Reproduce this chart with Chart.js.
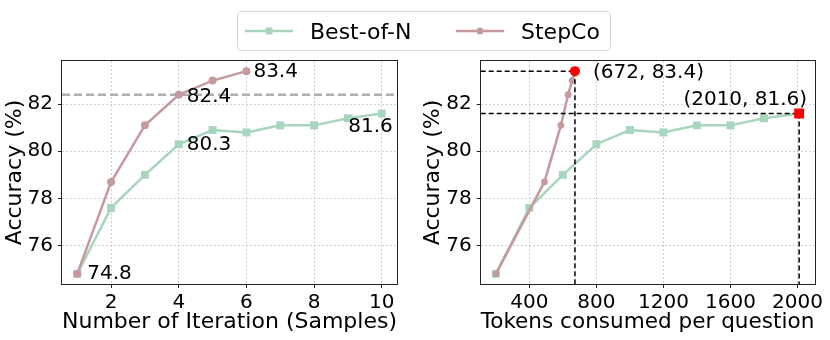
<!DOCTYPE html>
<html>
<head>
<meta charset="utf-8">
<script src="https://cdn.jsdelivr.net/npm/chart.js@4/dist/chart.umd.min.js"></script>
<style>
  html, body { margin: 0; padding: 0; background: #fff; }
  body { width: 830px; height: 340px; position: relative; overflow: hidden; font-family: "DejaVu Sans", sans-serif; }
  #c1 { position: absolute; left: 0; top: 0; }
  #c2 { position: absolute; left: 410px; top: 0; }
  #legend { position: absolute; left: 237px; top: 11px; width: 372px; height: 38px; border: 1px solid #d9d9d9; border-radius: 4px; background: rgba(255,255,255,0.8); }
  .item { position: absolute; top: 0; height: 38px; display: flex; align-items: center; font-size: 22px; color: #000; white-space: nowrap; }
  .item svg { margin-right: 17px; }
</style>
</head>
<body>
<canvas id="c1" width="410" height="340"></canvas>
<canvas id="c2" width="420" height="340"></canvas>
<div id="legend">
  <div class="item" style="left:7px"><svg width="48" height="12"><line x1="0" y1="6" x2="48" y2="6" stroke="#a8d5bd" stroke-width="2.5"/><rect x="20.5" y="2.5" width="7" height="7" fill="#a8d5bd"/></svg><span>Best-of-N</span></div>
  <div class="item" style="left:218px"><svg width="48" height="12"><line x1="0" y1="6" x2="48" y2="6" stroke="#c5999e" stroke-width="2.5"/><circle cx="24" cy="6" r="3.5" fill="#c5999e"/></svg><span>StepCo</span></div>
</div>
<script>
// ---- data ----
const iterations = [1, 2, 3, 4, 5, 6, 7, 8, 9, 10];
const bestOfNAcc = [74.8, 77.6, 79.0, 80.3, 80.9, 80.8, 81.1, 81.1, 81.4, 81.6];
const stepCoIter = [1, 2, 3, 4, 5, 6];
const stepCoAcc = [74.8, 78.7, 81.1, 82.4, 83.0, 83.4];
const bestOfNTokens = [200, 400, 600, 800, 1000, 1200, 1400, 1600, 1800, 2010];
const stepCoTokens = [200, 490, 588, 631, 655, 672];
const refAcc = 82.4;
const yTicks = [76, 78, 80, 82];
const xTicksLeft = [2, 4, 6, 8, 10];
const xTicksRight = [400, 800, 1200, 1600, 2000];
const seriesNames = ['Best-of-N', 'StepCo'];

const GREEN = '#a8d5bd';
const PINK = '#c5999e';
const FONT = 'DejaVu Sans';

function pts(xs, ys) { return xs.map((x, i) => ({ x: x, y: ys[i] })); }
function pad(lo, hi) { const m = (hi - lo) * 0.05; return [lo - m, hi + m]; }

const yAll = bestOfNAcc.concat(stepCoAcc);
const [yMin, yMax] = pad(Math.min(...yAll), Math.max(...yAll));
const [x1Min, x1Max] = pad(Math.min(...iterations), Math.max(...iterations));
const tokAll = bestOfNTokens.concat(stepCoTokens);
const [x2Min, x2Max] = pad(Math.min(...tokAll), Math.max(...tokAll));

const frameAndRef = {
  id: 'frameAndRef',
  beforeDatasetsDraw(chart, args, opts) {
    if (opts.refY === undefined) return;
    const { ctx, chartArea: a, scales } = chart;
    const y = scales.y.getPixelForValue(opts.refY);
    ctx.save();
    ctx.strokeStyle = '#aeaeae';
    ctx.lineWidth = 2.5;
    ctx.setLineDash([8, 4]);
    ctx.beginPath(); ctx.moveTo(a.left, y); ctx.lineTo(a.right, y); ctx.stroke();
    ctx.restore();
  },
  afterDatasetDraw(chart, args, opts) {
    if (!opts.cross || args.index !== opts.crossAfter) return;
    const { ctx, chartArea: a, scales } = chart;
    ctx.save();
    ctx.strokeStyle = '#000';
    ctx.lineWidth = 1.5;
    ctx.setLineDash([5, 3]);
    opts.cross.forEach(p => {
      const x = scales.x.getPixelForValue(p.x), y = scales.y.getPixelForValue(p.y);
      ctx.beginPath(); ctx.moveTo(a.left, y); ctx.lineTo(x, y); ctx.stroke();
      ctx.beginPath(); ctx.moveTo(x, y); ctx.lineTo(x, a.bottom); ctx.stroke();
    });
    ctx.restore();
  },
  afterDraw(chart, args, opts) {
    const { ctx, chartArea: a, scales } = chart;
    ctx.save();
    ctx.strokeStyle = '#222';
    ctx.lineWidth = 1;
    ctx.strokeRect(Math.round(a.left) - 0.5, Math.round(a.top) - 0.5, Math.round(a.right - a.left) + 1, Math.round(a.bottom - a.top) + 1);
    ctx.fillStyle = '#000';
    ctx.font = '20px "' + FONT + '"';
    ctx.textBaseline = 'middle';
    (opts.labels || []).forEach(l => {
      const x = scales.x.getPixelForValue(l.x), y = scales.y.getPixelForValue(l.y);
      ctx.textAlign = l.align || 'left';
      ctx.fillText(l.text, x + l.dx, y + l.dy);
    });
    ctx.restore();
  }
};

function makeScales(xMin, xMax, xTicks, xTitle, yWidth) {
  const common = {
    type: 'linear',
    grid: { color: '#c4c4c4', lineWidth: 0.8, borderDash: [2, 2], tickColor: '#222', tickLength: 4, tickWidth: 1, tickBorderDash: [] },
    border: { display: false, dash: [2, 2] },
  };
  return {
    x: Object.assign({}, common, {
      min: xMin, max: xMax,
      afterBuildTicks: s => { s.ticks = xTicks.map(v => ({ value: v })); },
      afterFit: s => { s.height = 56; },
      ticks: { color: '#000', font: { family: FONT, size: 20 }, padding: 3, maxRotation: 0, autoSkip: false, callback: v => String(v) },
      title: { display: true, text: xTitle, color: '#000', font: { family: FONT, size: 22 }, padding: { top: 0, bottom: 5 } }
    }),
    y: Object.assign({}, common, {
      min: yMin, max: yMax,
      afterBuildTicks: s => { s.ticks = yTicks.map(v => ({ value: v })); },
      afterFit: s => { s.width = yWidth; },
      ticks: { color: '#000', font: { family: FONT, size: 20 }, padding: 5, callback: v => String(v) },
      title: { display: true, text: 'Accuracy (%)', color: '#000', font: { family: FONT, size: 22 }, padding: { top: 2, bottom: 0 } }
    })
  };
}

const baseOpts = {
  responsive: false, animation: false, devicePixelRatio: 1,
  plugins: { legend: { display: false }, tooltip: { enabled: false } },
};

const f1 = v => v.toFixed(1);

new Chart(document.getElementById('c1'), {
  type: 'line',
  data: {
    datasets: [
      { label: seriesNames[0], data: pts(iterations, bestOfNAcc), borderColor: GREEN, backgroundColor: GREEN, borderWidth: 2.5,
        pointStyle: 'rect', pointRadius: 5.6, pointBorderWidth: 0, order: 3 },
      { label: seriesNames[1], data: pts(stepCoIter, stepCoAcc), borderColor: PINK, backgroundColor: PINK, borderWidth: 2.5,
        pointStyle: 'circle', pointRadius: 4, pointBorderWidth: 0, order: 2 }
    ]
  },
  options: Object.assign({}, baseOpts, {
    layout: { padding: { left: 0, right: 13, top: 61, bottom: 0 } },
    scales: makeScales(x1Min, x1Max, xTicksLeft, 'Number of Iteration (Samples)', 62),
    plugins: Object.assign({}, baseOpts.plugins, {
      frameAndRef: {
        refY: refAcc,
        labels: [
          { x: iterations[0], y: bestOfNAcc[0], text: f1(bestOfNAcc[0]), dx: 10, dy: 0 },
          { x: stepCoIter[3], y: stepCoAcc[3], text: f1(stepCoAcc[3]), dx: 8, dy: 2 },
          { x: iterations[3], y: bestOfNAcc[3], text: f1(bestOfNAcc[3]), dx: 8, dy: 1 },
          { x: stepCoIter[5], y: stepCoAcc[5], text: f1(stepCoAcc[5]), dx: 7, dy: 1 },
          { x: iterations[9], y: bestOfNAcc[9], text: f1(bestOfNAcc[9]), dx: 11, dy: 13, align: 'right' }
        ]
      }
    })
  }),
  plugins: [frameAndRef]
});

const sLast = stepCoTokens.length - 1, bLast = bestOfNTokens.length - 1;
new Chart(document.getElementById('c2'), {
  type: 'line',
  data: {
    datasets: [
      { label: seriesNames[0], data: pts(bestOfNTokens, bestOfNAcc), borderColor: GREEN, backgroundColor: GREEN, borderWidth: 2.5,
        pointStyle: 'rect', pointRadius: 5.6, pointBorderWidth: 0, order: 3 },
      { label: seriesNames[1], data: pts(stepCoTokens, stepCoAcc), borderColor: PINK, backgroundColor: PINK, borderWidth: 2.5,
        pointStyle: 'circle', pointRadius: 3.4, pointBorderWidth: 0, order: 2 },
      { label: 'StepCo final', data: [{ x: stepCoTokens[sLast], y: stepCoAcc[sLast] }], showLine: false,
        backgroundColor: '#ff0000', borderColor: '#ff0000', pointStyle: 'circle', pointRadius: 5, pointBorderWidth: 0, order: 0 },
      { label: 'Best-of-N final', data: [{ x: bestOfNTokens[bLast], y: bestOfNAcc[bLast] }], showLine: false,
        backgroundColor: '#ff0000', borderColor: '#ff0000', pointStyle: 'rect', pointRadius: 7, pointBorderWidth: 0, order: 0 }
    ]
  },
  options: Object.assign({}, baseOpts, {
    layout: { padding: { left: 8, right: 15.7, top: 61, bottom: 0 } },
    scales: makeScales(x2Min, x2Max, xTicksRight, 'Tokens consumed per question', 62.7),
    plugins: Object.assign({}, baseOpts.plugins, {
      frameAndRef: {
        crossAfter: 1,
        cross: [
          { x: stepCoTokens[sLast], y: stepCoAcc[sLast] },
          { x: bestOfNTokens[bLast], y: bestOfNAcc[bLast] }
        ],
        labels: [
          { x: stepCoTokens[sLast], y: stepCoAcc[sLast], text: '(' + stepCoTokens[sLast] + ', ' + f1(stepCoAcc[sLast]) + ')', dx: 18, dy: 2 },
          { x: bestOfNTokens[bLast], y: bestOfNAcc[bLast], text: '(' + bestOfNTokens[bLast] + ', ' + f1(bestOfNAcc[bLast]) + ')', dx: 8, dy: -14, align: 'right' }
        ]
      }
    })
  }),
  plugins: [frameAndRef]
});
</script>
</body>
</html>
